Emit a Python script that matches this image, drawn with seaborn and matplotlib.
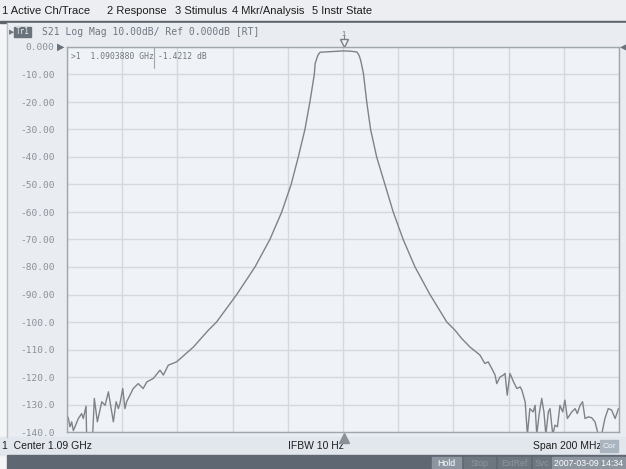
import numpy as np
import pandas as pd
import seaborn as sns
import matplotlib.pyplot as plt
from matplotlib.patches import Rectangle

# S21 trace (MHz, dB)
freq_mhz = [990.1, 990.5, 991.1, 991.7, 992.3, 992.9, 994.1, 995.3, 995.9, 996.9,
            997.1, 998.9, 999.3, 999.9, 1001.0, 1002.6, 1003.8, 1005.0, 1006.8, 1007.8,
            1008.6, 1009.2, 1010.2, 1011.0, 1011.6, 1014.0, 1015.8, 1017.6, 1018.9, 1021.3,
            1023.7, 1024.9, 1026.7, 1029.7, 1035.8, 1041.2, 1044.2, 1051.5, 1058.1, 1063.5,
            1067.8, 1071.2, 1073.8, 1076.2, 1078.0, 1079.6, 1079.9, 1080.9, 1081.7, 1083.5,
            1087.1, 1090.0, 1092.5, 1095.0, 1095.8, 1096.4, 1097.4, 1098.6, 1100.0, 1102.2,
            1105.2, 1108.2, 1111.8, 1116.1, 1121.5, 1127.6, 1130.6, 1133.0, 1136.0, 1139.6,
            1141.4, 1142.6, 1143.9, 1145.1, 1145.7, 1146.9, 1148.1, 1148.7, 1149.5, 1150.5,
            1151.8, 1153.0, 1154.2, 1154.8, 1156.0, 1156.8, 1157.7, 1158.9, 1159.6, 1160.2,
            1161.1, 1162.0, 1162.8, 1163.5, 1164.4, 1165.0, 1166.0, 1166.8, 1167.7, 1168.6,
            1169.6, 1170.4, 1171.3, 1172.9, 1174.1, 1174.9, 1175.9, 1176.8, 1177.7, 1178.9,
            1180.1, 1181.3, 1182.5, 1183.7, 1184.9, 1186.1, 1187.3, 1188.6, 1189.8]
s21_db = [-134.0, -135.1, -138.1, -136.3, -139.5, -138.1, -135.1, -133.3, -135.1, -130.6,
          -141.0, -141.0, -141.0, -127.8, -136.3, -129.0, -130.3, -125.4, -136.3, -129.0,
          -131.5, -129.6, -124.2, -131.5, -129.0, -124.2, -122.4, -124.2, -121.8, -120.5,
          -117.5, -119.3, -115.7, -114.5, -109.1, -103.0, -100.0, -90.0, -80.0, -70.0,
          -60.0, -50.0, -40.0, -30.0, -20.0, -10.0, -6.0, -3.0, -1.9, -1.8,
          -1.6, -1.42, -1.5, -1.8, -3.0, -4.8, -9.6, -20.0, -30.0, -40.0,
          -50.0, -60.0, -70.0, -80.0, -90.0, -100.0, -103.0, -106.0, -109.1, -112.0,
          -115.1, -114.5, -116.9, -119.3, -122.4, -120.0, -119.3, -118.7, -126.6, -118.7,
          -121.8, -124.2, -123.6, -124.8, -129.0, -141.0, -131.5, -132.7, -130.3, -141.0,
          -133.3, -127.8, -132.7, -141.0, -132.7, -131.5, -141.0, -137.5, -138.1, -130.3,
          -132.7, -128.4, -135.1, -132.7, -131.5, -133.3, -130.3, -129.0, -135.1, -134.5,
          -134.8, -136.3, -141.0, -141.0, -135.1, -131.5, -132.0, -135.1, -131.5]

y_ticks = list(range(-140, 1, 10))
y_labels = ["-140.0", "-130.0", "-120.0", "-110.0", "-100.0", "-90.00", "-80.00",
            "-70.00", "-60.00", "-50.00", "-40.00", "-30.00", "-20.00", "-10.00", "0.000"]
x_ticks = list(np.arange(990, 1191, 20))

marker_freq = 1090.388
marker_db = -1.4212

menu_items = ["1 Active Ch/Trace", "2 Response", "3 Stimulus", "4 Mkr/Analysis", "5 Instr State"]
menu_x = [2, 107, 175, 232, 312]
status_keys = ["Hold", "Stop", "ExtRef", "Svc", "2007-03-09 14:34"]

df = pd.DataFrame({"freq": freq_mhz, "db": s21_db})

sns.set_theme(style="whitegrid")
plt.rcParams["font.family"] = ["Liberation Sans", "DejaVu Sans"]

W, H = 626, 469
fig = plt.figure(figsize=(W / 100, H / 100), dpi=100)

# background "screen" axes in pixel coordinates
bg = fig.add_axes([0, 0, 1, 1])
bg.set_xlim(0, W)
bg.set_ylim(H, 0)
bg.axis("off")
bg.add_patch(Rectangle((0, 0), W, H, color="#f3f5f7", zorder=0))
bg.add_patch(Rectangle((0, 0), W, 21, color="#eceef1", zorder=1))
bg.add_patch(Rectangle((0, 21), W, 2, color="#5c646d", zorder=1))
bg.add_patch(Rectangle((7, 23), W - 7, 414, color="#e9edf2", zorder=1))
bg.add_patch(Rectangle((0, 437), W, 18, color="#e2e7ed", zorder=2))
bg.add_patch(Rectangle((7, 455), W - 7, 14, color="#5f6872", zorder=2))
bg.plot([7, 7], [23, 437], color="#b9c0c8", lw=1, zorder=2)

for lbl, xx in zip(menu_items, menu_x):
    bg.text(xx, 11, lbl, fontsize=8, color="#1e1e1e", va="center", ha="left", zorder=3)

mono = "DejaVu Sans Mono"
bg.text(9, 32, "\u25B6", fontsize=5, color="#707880", va="center",
        family="DejaVu Sans", zorder=3)
bg.add_patch(Rectangle((14, 27), 17, 10, color="#6a737c", zorder=3))
bg.text(22.5, 32, "Tr1", fontsize=5.5, color="#e8ecf0", va="center", ha="center",
        family=mono, zorder=4)
bg.text(42, 32, "S21 Log Mag 10.00dB/ Ref 0.000dB [RT]", fontsize=7, color="#6f7780",
        va="center", family=mono, zorder=3)

# status line
bg.text(2, 446, "1  Center 1.09 GHz", fontsize=7.5, color="#1e1e1e", va="center", zorder=3)
bg.text(288, 446, "IFBW 10 Hz", fontsize=7.5, color="#1e1e1e", va="center", zorder=3)
bg.text(533, 446, "Span 200 MHz", fontsize=7.5, color="#1e1e1e", va="center", zorder=3)
bg.add_patch(Rectangle((600, 440), 18, 12, color="#a9b4bf", zorder=3))
bg.text(609, 446, "Cor", fontsize=6, color="#f2f4f6", va="center", ha="center", zorder=4)

key_x = [432, 464, 498, 533, 552]
key_w = [29, 31, 32, 17, 73]
key_bg = ["#8d96a0", "#6d767f", "#6d767f", "#6d767f", "#8d96a0"]
key_fg = ["#ffffff", "#8e979f", "#8e979f", "#8e979f", "#ffffff"]
for lbl, xx, ww, cb, cf in zip(status_keys, key_x, key_w, key_bg, key_fg):
    bg.add_patch(Rectangle((xx, 457), ww, 12, color=cb, zorder=3))
    bg.text(xx + ww / 2, 463, lbl, fontsize=6.3, color=cf, va="center", ha="center", zorder=4)

# reference arrows
bg.text(57, 47, "\u25B6", fontsize=7, color="#6a737c", va="center", ha="left",
        family="DejaVu Sans", zorder=3)
bg.text(627, 47, "\u25C0", fontsize=7, color="#6a737c", va="center", ha="right",
        family="DejaVu Sans", zorder=3)

# main trace axes
ax = fig.add_axes([67 / W, (H - 432) / H, 552 / W, 385 / H])
ax.set_facecolor("#eff2f6")
sns.lineplot(data=df, x="freq", y="db", ax=ax, color="#808386", linewidth=1.0,
             estimator=None, sort=False)
ax.set_xlim(990, 1190)
ax.set_ylim(-140, 0)
ax.set_xticks(x_ticks)
ax.set_xticklabels([])
ax.set_yticks(y_ticks)
ax.set_yticklabels(y_labels, family=mono, fontsize=6.8, color="#8a9098")
ax.tick_params(axis="both", length=0, pad=9)
ax.grid(True, color="#d3d9df", linewidth=1)
ax.set_xlabel("")
ax.set_ylabel("")
for s in ax.spines.values():
    s.set_color("#a0a6ad")
    s.set_linewidth(1)

# marker readout
ax.text(0.008, 0.976, ">1  %.7f GHz" % (marker_freq / 1000), transform=ax.transAxes,
        fontsize=5.8, family=mono, color="#6f7780", va="center", ha="left")
ax.text(0.165, 0.976, "%.4f dB" % marker_db, transform=ax.transAxes,
        fontsize=5.8, family=mono, color="#6f7780", va="center", ha="left")
ax.plot([0.158, 0.158], [0.945, 1.0], transform=ax.transAxes, color="#a0a6ad", lw=0.8)

# marker 1 symbol at top of grid
ax.plot([marker_freq, marker_freq], [0.5, 4.0], color="#7b7e82", lw=0.8, clip_on=False)
ax.plot([marker_freq], [1.6], marker="v", markersize=6, markerfacecolor="#eff2f6",
        markeredgecolor="#7b7e82", clip_on=False)
ax.text(marker_freq, 4.6, "1", fontsize=5.5, color="#6f7780", ha="center", va="center",
        clip_on=False)
ax.plot([marker_freq], [-142.0], marker="^", markersize=7, color="#8a9098", clip_on=False)

fig.savefig("out.png", dpi=100)
